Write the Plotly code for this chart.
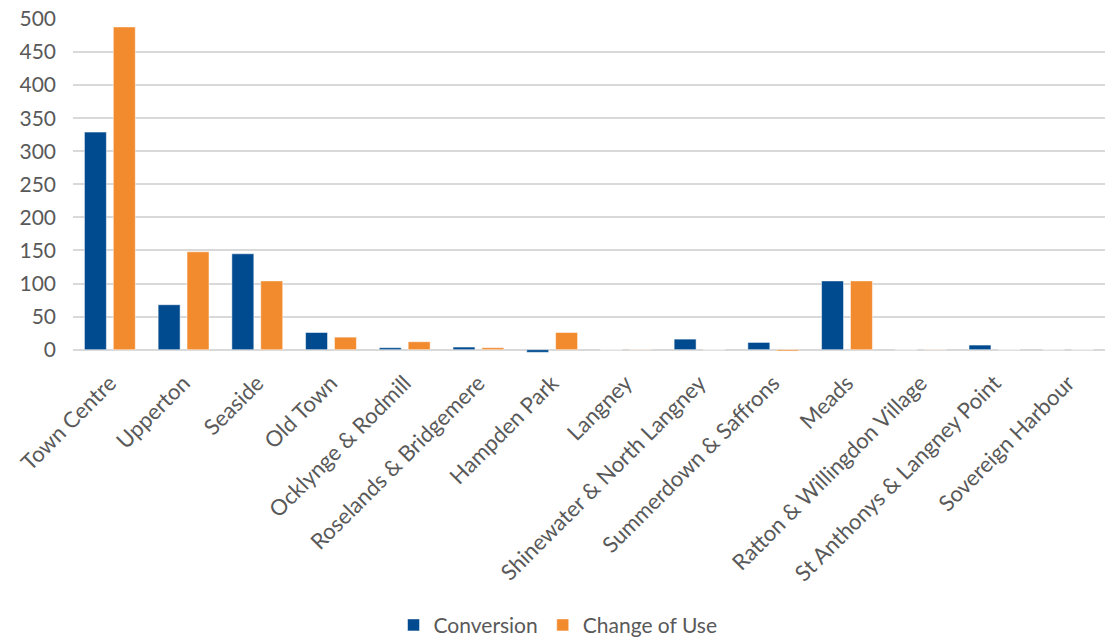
import plotly.graph_objects as go

wards = ["Town Centre", "Upperton", "Seaside", "Old Town", "Ocklynge & Rodmill",
         "Roselands & Bridgemere", "Hampden Park", "Langney",
         "Shinewater & North Langney", "Summerdown & Saffrons", "Meads",
         "Ratton & Willingdon Village", "St Anthonys & Langney Point",
         "Sovereign Harbour"]
conversion = [329, 68, 145, 26, 3, 4, -4, 0, 16, 11, 104, 0, 7, 0]
change_of_use = [488, 148, 104, 19, 12, 3, 26, 0.5, 0, -2, 104, 0.5, 0, 0]
y_ticks = [0, 50, 100, 150, 200, 250, 300, 350, 400, 450, 500]

text_color = "#595959"
font_family = "Lato, 'Open Sans', sans-serif"

fig = go.Figure()
fig.add_trace(go.Bar(name="Conversion", x=wards, y=conversion,
                     marker=dict(color="#004A8F",
                                 line=dict(color="rgba(255,255,255,0.5)", width=1))))
fig.add_trace(go.Bar(name="Change of Use", x=wards, y=change_of_use,
                     marker=dict(color="#F28A2E",
                                 line=dict(color="rgba(255,255,255,0.5)", width=1))))

fig.update_layout(
    width=1105, height=640,
    margin=dict(l=73, r=0, t=19, b=287, autoexpand=False),
    barmode="group", bargap=0.216, bargroupgap=0.24,
    plot_bgcolor="white", paper_bgcolor="white",
    font=dict(family=font_family, size=21, color=text_color),
    showlegend=True,
    legend=dict(orientation="h", x=0.47, xanchor="center",
                yref="container", y=0.023, yanchor="middle",
                font=dict(size=21, color=text_color), itemwidth=30,
                traceorder="normal"),
)
fig.update_xaxes(tickangle=-45, showgrid=False, showline=False, ticks="",
                 automargin=False, ticklabelstandoff=12,
                 tickfont=dict(size=22, color=text_color))
fig.update_yaxes(range=[-5, 500], tickvals=y_ticks, showgrid=True,
                 gridcolor="#D9D9D9", gridwidth=1.5, zeroline=True,
                 zerolinecolor="#D9D9D9", zerolinewidth=1.5, automargin=False,
                 tickfont=dict(size=21, color=text_color), ticklabelstandoff=16)

fig.write_html("out.html")
